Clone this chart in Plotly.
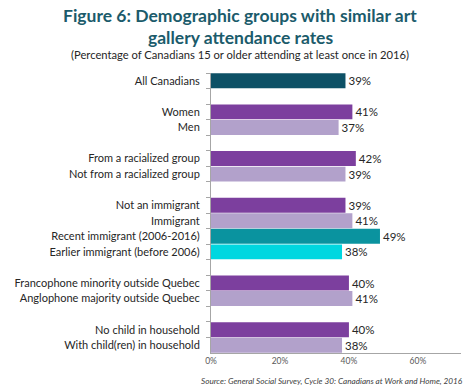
import plotly.graph_objects as go

categories = ["All Canadians", " ", "Women", "Men", "  ",
              "From a racialized group", "Not from a racialized group", "   ",
              "Not an immigrant", "Immigrant", "Recent immigrant (2006-2016)",
              "Earlier immigrant (before 2006)", "    ",
              "Francophone minority outside Quebec", "Anglophone majority outside Quebec", "     ",
              "No child in household", "With child(ren) in household"]
values = [39, None, 41, 37, None, 42, 39, None, 39, 41, 49, 38, None, 40, 41, None, 40, 38]
colors = ["#0E5166", "#FFFFFF", "#7C3F9E", "#B2A1CB", "#FFFFFF", "#7C3F9E", "#B2A1CB", "#FFFFFF",
          "#7C3F9E", "#B2A1CB", "#0A939F", "#00D7E0", "#FFFFFF", "#7C3F9E", "#B2A1CB", "#FFFFFF",
          "#7C3F9E", "#B2A1CB"]
tick_vals = [0, 20, 40, 60]
tick_text = ["0%", "20%", "40%", "60%"]

W, H = 474, 391
L, R, T, B = 211, 13, 73, 38
ph = H - T - B

def py(ypix):
    return (H - B - ypix) / ph

def px(xpix):
    return (xpix - L) / (W - L - R)

texts = ["" if v is None else f"{v}%" for v in values]

fig = go.Figure(go.Bar(
    x=values, y=categories, orientation="h",
    marker=dict(color=colors, line=dict(width=0)),
    text=texts, textposition="outside", cliponaxis=False,
    textfont=dict(family="Lato", size=11.5, color="#262626"),
    hoverinfo="skip",
))

fig.update_layout(
    width=W, height=H,
    margin=dict(l=L, r=R, t=T, b=B, autoexpand=False),
    paper_bgcolor="white", plot_bgcolor="white",
    bargap=0.04, showlegend=False,
    font=dict(family="Lato", size=11, color="#262626"),
    xaxis=dict(range=[0, 72.5], tickvals=tick_vals, ticktext=tick_text, automargin=False,
               showgrid=False, zeroline=False, showline=True, linecolor="#A6A6A6",
               linewidth=1, ticks="", tickfont=dict(size=8.5, color="#595959")),
    yaxis=dict(categoryorder="array", categoryarray=categories, autorange="reversed",
               automargin=False,
               showgrid=False, zeroline=False, showline=True, linecolor="#A6A6A6",
               linewidth=1, ticks="outside", ticklen=4, tickcolor="#A6A6A6",
               tickson="boundaries", ticklabelstandoff=8,
               tickfont=dict(family="Lato", size=11, color="#262626")),
    annotations=[
        dict(text="<b>Figure 6: Demographic groups with similar art</b>", x=px(240), y=py(15),
             xref="paper", yref="paper", showarrow=False, xanchor="center", yanchor="middle",
             font=dict(family="Lato", size=17.5, color="#1B5B6B")),
        dict(text="<b>gallery attendance rates</b>", x=px(240), y=py(37),
             xref="paper", yref="paper", showarrow=False, xanchor="center", yanchor="middle",
             font=dict(family="Lato", size=17.5, color="#1B5B6B")),
        dict(text="(Percentage of Canadians 15 or older attending at least once in 2016)",
             x=px(240), y=py(54), xref="paper", yref="paper", showarrow=False,
             xanchor="center", yanchor="middle",
             font=dict(family="Lato", size=11.2, color="#262626")),
        dict(text="<i>Source: General Social Survey, Cycle 30: Canadians at Work and Home, 2016</i>",
             x=px(465), y=py(381), xref="paper", yref="paper", showarrow=False,
             xanchor="right", yanchor="middle",
             font=dict(family="Lato", size=8.2, color="#404040")),
    ],
)

fig.write_html("out.html", config={"displayModeBar": False},
               post_script="document.body.style.margin='0';")
